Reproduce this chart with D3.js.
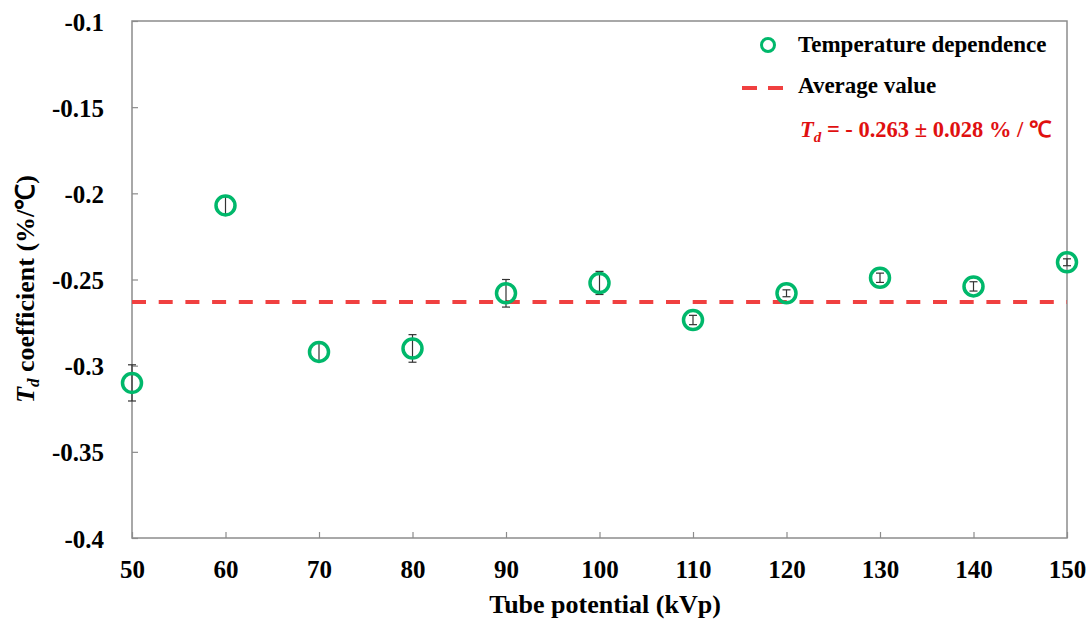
<!DOCTYPE html>
<html>
<head>
<meta charset="utf-8">
<script src="https://cdn.jsdelivr.net/npm/d3@7"></script>
<style>
  body { margin: 0; background: #fff; }
  text { font-family: "Liberation Serif", "Times New Roman", serif; font-weight: bold; }
</style>
</head>
<body>
<div id="chart"></div>
<script>
// tube potential (kVp)
const kvp = [50, 60, 70, 80, 90, 100, 110, 120, 130, 140, 150];
// temperature dependence coefficient (%/℃)
const coef = [-0.310, -0.207, -0.292, -0.290, -0.258, -0.252, -0.2735, -0.258, -0.249, -0.254, -0.240];
const errs = [0.0105, 0.0055, 0.0055, 0.008, 0.008, 0.0067, 0.0027, 0.002, 0.0027, 0.0027, 0.002];
const average = -0.263;
const xTicks = [50, 60, 70, 80, 90, 100, 110, 120, 130, 140, 150];
const yTicks = [-0.1, -0.15, -0.2, -0.25, -0.3, -0.35, -0.4];

const width = 1091, height = 623;
const margin = { top: 21, right: 24, bottom: 85, left: 132 };
const innerW = width - margin.left - margin.right;
const innerH = height - margin.top - margin.bottom;

const svg = d3.select("#chart").append("svg")
    .attr("width", width)
    .attr("height", height);

const g = svg.append("g").attr("transform", `translate(${margin.left},${margin.top})`);

const x = d3.scaleLinear().domain([50, 150]).range([0, innerW]);
const y = d3.scaleLinear().domain([-0.4, -0.1]).range([innerH, 0]);

// frame
g.append("rect")
    .attr("width", innerW)
    .attr("height", innerH)
    .attr("fill", "none")
    .attr("stroke", "#8c8c8c")
    .attr("stroke-width", 1.5);

// axes, ticks pointing inward
const xAxis = g.append("g")
    .attr("transform", `translate(0,${innerH})`)
    .call(d3.axisBottom(x).tickValues(xTicks).tickSize(-6).tickPadding(22).tickFormat(d => String(d)));
const yAxis = g.append("g")
    .call(d3.axisLeft(y).tickValues(yTicks).tickSize(-6).tickPadding(28).tickFormat(d => String(d)));

[xAxis, yAxis].forEach(a => {
    a.attr("font-family", "'Liberation Serif', serif").attr("font-size", 25);
    a.select(".domain").remove();
    a.selectAll(".tick line").attr("stroke", "#8c8c8c").attr("stroke-width", 1.2);
    a.selectAll(".tick text")
        .attr("fill", "#000")
        .style("font-weight", "bold");
});
xAxis.selectAll(".tick text").attr("dy", "0.71em");
yAxis.selectAll(".tick text").attr("dy", "0.36em");

// average line
g.append("line")
    .attr("x1", x(50))
    .attr("x2", x(150))
    .attr("y1", y(average))
    .attr("y2", y(average))
    .attr("stroke", "#f04040")
    .attr("stroke-width", 4)
    .attr("stroke-dasharray", "14,12.7");

const points = kvp.map((k, i) => ({ k, v: coef[i], e: errs[i] }));

// error bars
const eb = g.selectAll("g.err").data(points).join("g").attr("class", "err");
eb.append("line")
    .attr("x1", d => x(d.k)).attr("x2", d => x(d.k))
    .attr("y1", d => y(d.v + d.e)).attr("y2", d => y(d.v - d.e))
    .attr("stroke", "#333").attr("stroke-width", 1.2);
eb.selectAll("line.cap")
    .data(d => [d.v + d.e, d.v - d.e].map(val => ({ k: d.k, val })))
    .join("line")
    .attr("class", "cap")
    .attr("x1", d => x(d.k) - 4).attr("x2", d => x(d.k) + 4)
    .attr("y1", d => y(d.val)).attr("y2", d => y(d.val))
    .attr("stroke", "#333").attr("stroke-width", 1.2);

// markers
g.selectAll("circle.pt").data(points).join("circle")
    .attr("class", "pt")
    .attr("cx", d => x(d.k))
    .attr("cy", d => y(d.v))
    .attr("r", 9.5)
    .attr("fill", "none")
    .attr("stroke", "#00b86b")
    .attr("stroke-width", 3.5);

// legend
const legend = svg.append("g");
legend.append("circle")
    .attr("cx", 768).attr("cy", 45).attr("r", 6.5)
    .attr("fill", "none").attr("stroke", "#00b86b").attr("stroke-width", 3);
legend.append("text")
    .attr("x", 798).attr("y", 52)
    .style("font-size", "23px")
    .text("Temperature dependence");
legend.append("line")
    .attr("x1", 742).attr("x2", 784).attr("y1", 88).attr("y2", 88)
    .attr("stroke", "#f04040").attr("stroke-width", 4)
    .attr("stroke-dasharray", "15,11");
legend.append("text")
    .attr("x", 798).attr("y", 93)
    .style("font-size", "23px")
    .text("Average value");
const td = legend.append("text")
    .attr("x", 800).attr("y", 137)
    .attr("fill", "#e01010")
    .style("font-size", "22.5px");
td.append("tspan").style("font-style", "italic").text("T");
td.append("tspan").style("font-style", "italic").style("font-size", "15px").attr("dy", 5).text("d");
td.append("tspan").attr("dy", -5).text(" = - 0.263 ± 0.028 % / ℃");

// axis titles
svg.append("text")
    .attr("x", 605).attr("y", 613)
    .attr("text-anchor", "middle")
    .style("font-size", "26px")
    .text("Tube potential (kVp)");

const yl = svg.append("text")
    .attr("transform", "translate(34,289) rotate(-90)")
    .attr("text-anchor", "middle")
    .style("font-size", "26px");
yl.append("tspan").style("font-style", "italic").text("T");
yl.append("tspan").style("font-style", "italic").style("font-size", "17px").attr("dy", 5).text("d");
yl.append("tspan").attr("dy", -5).text(" coefficient (%/℃)");
</script>
</body>
</html>
